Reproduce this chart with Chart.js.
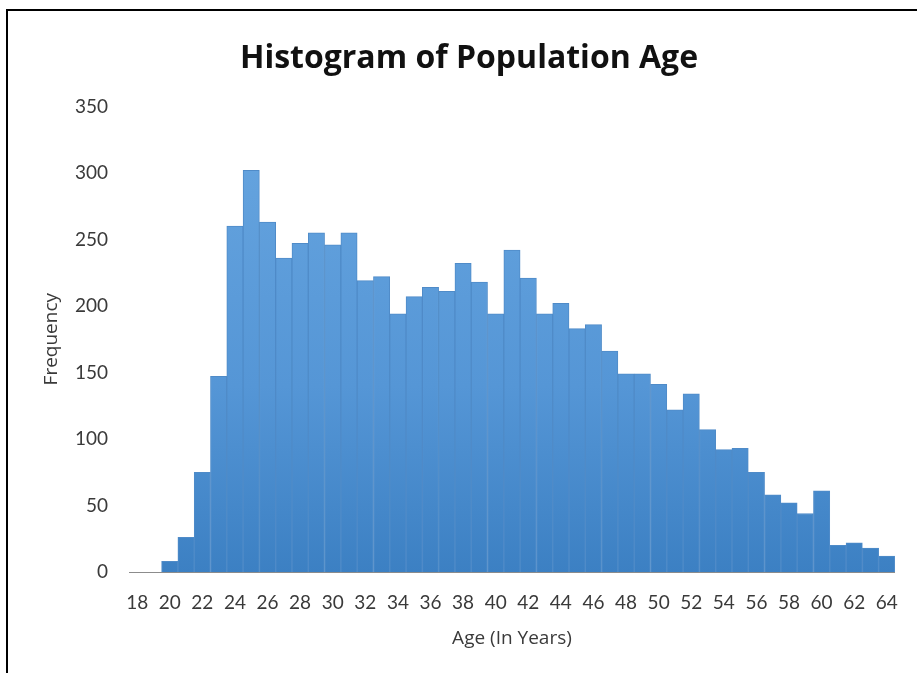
<!DOCTYPE html>
<html>
<head>
<meta charset="utf-8">
<title>Histogram of Population Age</title>
<script src="https://cdn.jsdelivr.net/npm/chart.js@4/dist/chart.umd.min.js"></script>
<style>
    html, body {
        margin: 0;
        padding: 0;
        width: 917px;
        height: 673px;
        overflow: hidden;
        background: #ffffff;
    }
    #marco {
        position: absolute;
        left: 6px;
        top: 9px;
        width: 1000px;
        height: 1000px;
        border: 2px solid #000;
        pointer-events: none;
    }
    #contenedor {
        position: absolute;
        left: 0;
        top: 0;
        width: 917px;
        height: 673px;
    }
</style>
</head>
<body>
<div id="contenedor"><canvas id="graficoEdades"></canvas></div>
<div id="marco"></div>
<script>
// Edades (una barra por año) y frecuencia de cada una
const edades = [18, 19, 20, 21, 22, 23, 24, 25, 26, 27, 28, 29, 30, 31, 32, 33,
    34, 35, 36, 37, 38, 39, 40, 41, 42, 43, 44, 45, 46, 47, 48, 49,
    50, 51, 52, 53, 54, 55, 56, 57, 58, 59, 60, 61, 62, 63, 64];
const frecuencias = [0, 0, 8, 26, 75, 147, 260, 302, 263, 236, 247, 255, 246, 255, 219, 222,
    194, 207, 214, 211, 232, 218, 194, 242, 221, 194, 202, 183, 186, 166, 149, 149,
    141, 122, 134, 107, 92, 93, 75, 58, 52, 44, 61, 20, 22, 18, 12];
const marcasY = [0, 50, 100, 150, 200, 250, 300, 350];

const fuente = 'Lato, "Open Sans", sans-serif';
const fuenteTitulos = '"Open Sans", Lato, sans-serif';

function degradadoBarras(context) {
    const {ctx, chartArea} = context.chart;
    if (!chartArea) return '#5b9bd5';
    const g = ctx.createLinearGradient(0, chartArea.top, 0, chartArea.bottom);
    g.addColorStop(0, '#68a6e0');
    g.addColorStop(0.6, '#5596d6');
    g.addColorStop(1, '#3c80c3');
    return g;
}

const ctx = document.getElementById('graficoEdades').getContext('2d');

new Chart(ctx, {
    type: 'bar',
    data: {
        labels: edades,
        datasets: [{
            label: 'Frequency',
            data: frecuencias,
            backgroundColor: degradadoBarras,
            borderColor: '#4f8bc8',
            borderWidth: 1,
            barPercentage: 1,
            categoryPercentage: 1
        }]
    },
    options: {
        responsive: true,
        maintainAspectRatio: false,
        animation: false,
        layout: {
            padding: { left: 38, right: 17, top: 0, bottom: 11 }
        },
        scales: {
            x: {
                grid: { display: false, drawTicks: false },
                border: { display: true, color: '#8c8c8c', width: 1 },
                ticks: {
                    autoSkip: false,
                    maxRotation: 0,
                    padding: 19,
                    color: '#3a3a3a',
                    font: { family: fuente, size: 19 },
                    callback: function(value, index) {
                        return index % 2 === 0 ? this.getLabelForValue(value) : '';
                    }
                },
                title: {
                    display: true,
                    text: 'Age (In Years)',
                    color: '#3a3a3a',
                    font: { family: fuenteTitulos, size: 19 },
                    padding: { top: 4, bottom: 12 }
                },
                afterFit: function(scale) {
                    scale.height = 90;
                }
            },
            y: {
                min: 0,
                max: 350,
                grid: { display: false, drawTicks: false },
                border: { display: false },
                afterBuildTicks: function(scale) {
                    scale.ticks = marcasY.map(v => ({ value: v }));
                },
                ticks: {
                    padding: 21,
                    color: '#3a3a3a',
                    font: { family: fuente, size: 19 }
                },
                title: {
                    display: true,
                    text: 'Frequency',
                    color: '#3a3a3a',
                    font: { family: fuenteTitulos, size: 19 },
                    padding: { top: 2, bottom: 4 }
                },
                afterFit: function(scale) {
                    scale.width = 91;
                }
            }
        },
        plugins: {
            title: {
                display: true,
                text: 'Histogram of Population Age',
                color: '#111111',
                font: { family: fuenteTitulos, size: 32, weight: 'bold' },
                padding: { top: 40, bottom: 28 }
            },
            legend: { display: false },
            tooltip: { enabled: false }
        }
    }
});
</script>
</body>
</html>
